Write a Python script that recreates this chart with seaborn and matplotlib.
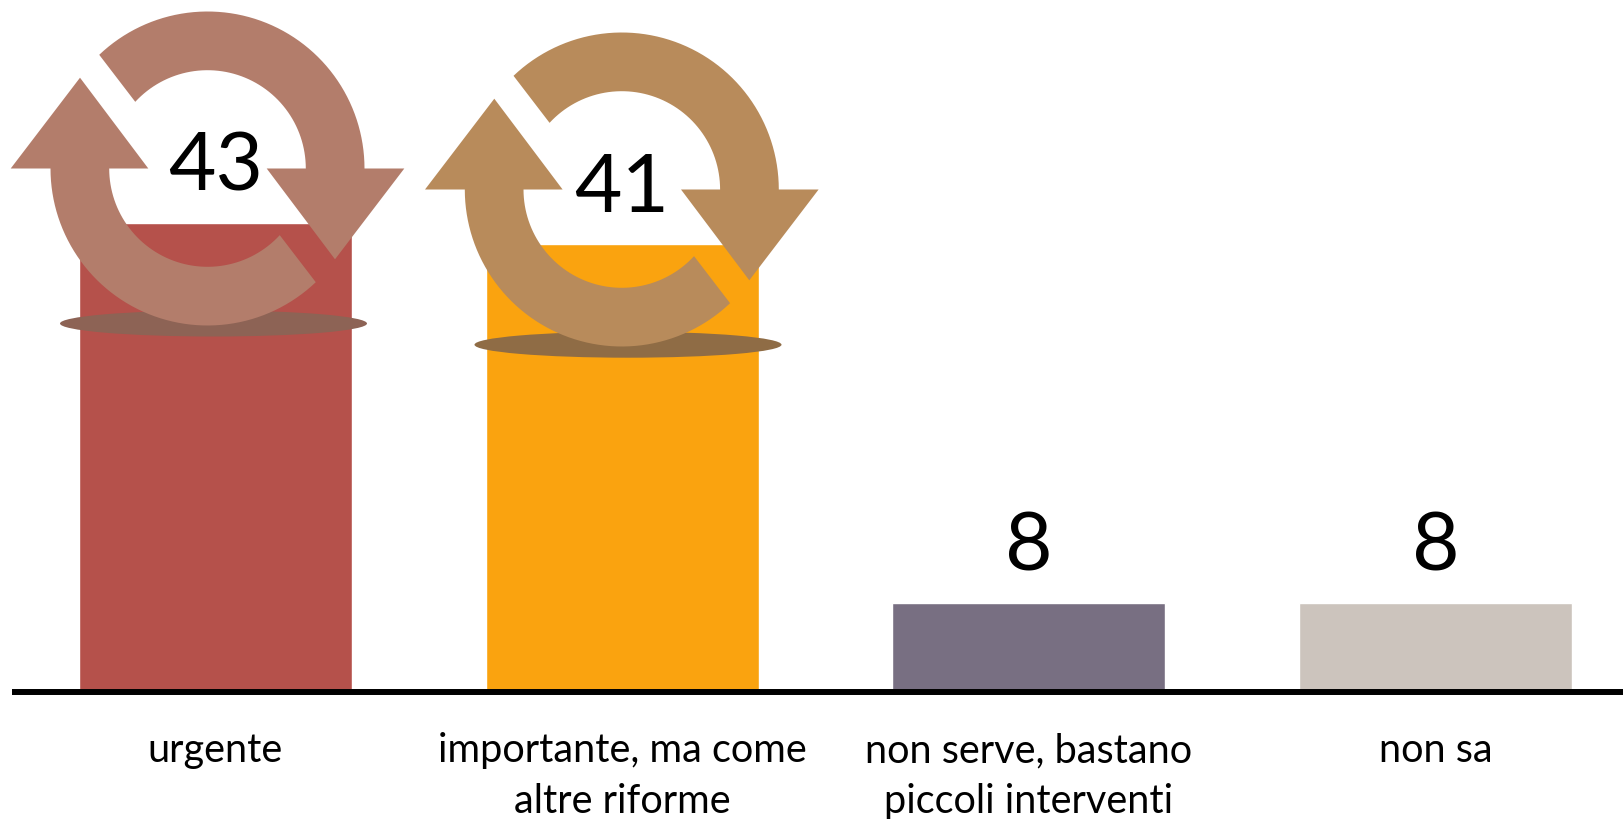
import numpy as np
import pandas as pd
import matplotlib
matplotlib.use("Agg")
import matplotlib.pyplot as plt
from matplotlib.patches import Polygon, Ellipse
from matplotlib.transforms import Affine2D
import seaborn as sns

categories = ["urgente", "importante, ma come\naltre riforme",
              "non serve, bastano\npiccoli interventi", "non sa"]
values = [43, 41, 8, 8]
bar_colors = ["#B5514B", "#FAA30F", "#786F82", "#CCC4BD"]

# Decorative cycle icons: centre (px), shadow centre (px), icon colour, shadow colour
icons = [
    ((207.5, 168.5), (213.5, 323.5), "#B37D6B", "#8D6355"),
    ((621.8, 189.5), (628.0, 344.7), "#B88B5B", "#8F6C45"),
]

WIDTH, HEIGHT = 1623, 819
sns.set_theme(style="white")
plt.rcParams["font.family"] = ["Lato", "DejaVu Sans"]

fig = plt.figure(figsize=(WIDTH / 100, HEIGHT / 100), dpi=100, facecolor="white")
ax = fig.add_axes([12.15 / WIDTH, (HEIGHT - 690) / HEIGHT, 1 - 12.15 / WIDTH, 690 / HEIGHT])

df = pd.DataFrame({"categoria": categories, "valore": values})
sns.barplot(data=df, x="categoria", y="valore", hue="categoria", palette=bar_colors,
            width=0.672, saturation=1, legend=False, ax=ax, zorder=1)

ax.set_xlim(-0.5, 3.461)
ax.set_ylim(0, 63.48)
ax.set_xlabel("")
ax.set_ylabel("")
ax.set_yticks([])
ax.tick_params(axis="x", length=0, pad=29, labelsize=28.5, labelcolor="black")

for side in ("left", "right", "top"):
    ax.spines[side].set_visible(False)
ax.spines["bottom"].set_position(("outward", 1.4))
ax.spines["bottom"].set_linewidth(4.3)
ax.spines["bottom"].set_color("black")
ax.spines["bottom"].set_capstyle("butt")
ax.spines["bottom"].set_zorder(2)

# Pixel space with the origin at the top left, for the ornaments
px = Affine2D().scale(1, -1).translate(0, HEIGHT)


def cycle_half(cx, cy, sign):
    """One curved arrow of the cycle icon, rotated by 180 degrees when sign is -1."""
    outer = np.radians(np.linspace(133.6, 0, 60))
    inner = np.radians(np.linspace(0, 137.3, 60))
    pts = [(157.0 * np.cos(a), -157.0 * np.sin(a)) for a in outer]
    pts += [(196.8, 0), (127.5, 90.8), (59.2, 0)]
    pts += [(98.3 * np.cos(a), -98.3 * np.sin(a)) for a in inner]
    return np.array(pts) * sign + (cx, cy)


for (cx, cy), (sx, sy), icon_color, shadow_color in icons:
    ax.add_patch(Ellipse((sx, sy), 307, 26, facecolor=shadow_color, edgecolor="none",
                         transform=px, clip_on=False, zorder=3))
    for sign in (1, -1):
        ax.add_patch(Polygon(cycle_half(cx, cy, sign), closed=True, facecolor=icon_color,
                             edgecolor="none", transform=px, clip_on=False, zorder=4))

for container in ax.containers:
    ax.bar_label(container, fmt="%d", padding=13, fontsize=59, color="black", zorder=5,
                 family=["Lato", "DejaVu Sans"])

# Line spacing has to be set once the tick labels exist in their final form
fig.canvas.draw()
for label in ax.get_xticklabels():
    label.set_linespacing(1.47)

fig.savefig("out.png", dpi=100, facecolor="white")
